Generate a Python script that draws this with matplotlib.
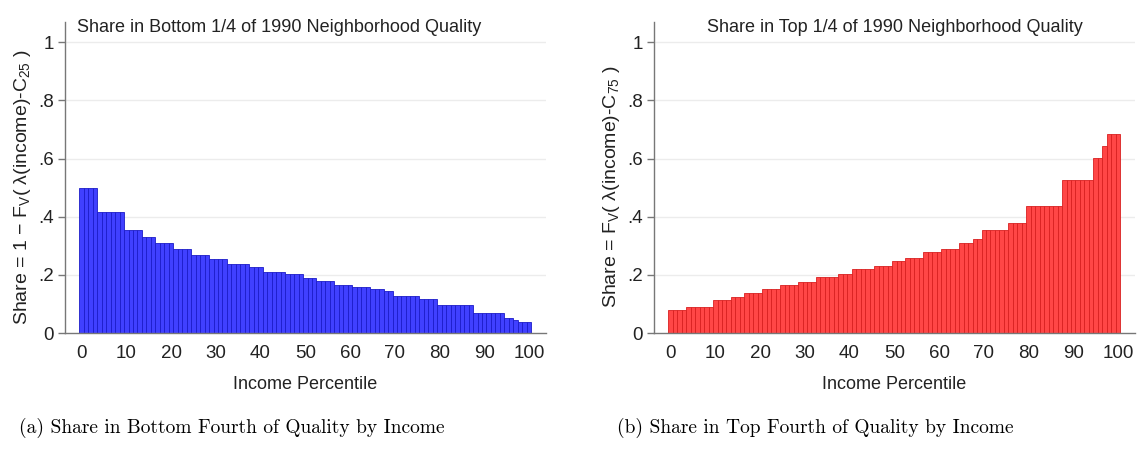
import matplotlib
matplotlib.use("Agg")
import matplotlib.pyplot as plt

plt.rcParams['font.family'] = ['Liberation Sans', 'DejaVu Sans']
plt.rcParams['mathtext.fontset'] = 'custom'
plt.rcParams['mathtext.rm'] = 'Liberation Sans'
plt.rcParams['mathtext.it'] = 'Liberation Sans:italic'

# income percentiles 0..100
percentiles = list(range(0, 101))

# Share in bottom 1/4 of neighborhood quality
bottom_share = [
    0.500, 0.500, 0.500, 0.500, 0.417, 0.417, 0.417, 0.417, 0.417, 0.417,
    0.354, 0.354, 0.354, 0.354, 0.331, 0.331, 0.331, 0.308, 0.308, 0.308,
    0.308, 0.290, 0.290, 0.290, 0.290, 0.267, 0.267, 0.267, 0.267, 0.254,
    0.254, 0.254, 0.254, 0.237, 0.237, 0.237, 0.237, 0.237, 0.226, 0.226,
    0.226, 0.210, 0.210, 0.210, 0.210, 0.210, 0.203, 0.203, 0.203, 0.203,
    0.188, 0.188, 0.188, 0.180, 0.180, 0.180, 0.180, 0.165, 0.165, 0.165,
    0.165, 0.158, 0.158, 0.158, 0.158, 0.151, 0.151, 0.151, 0.143, 0.143,
    0.128, 0.128, 0.128, 0.128, 0.128, 0.128, 0.118, 0.118, 0.118, 0.118,
    0.096, 0.096, 0.096, 0.096, 0.096, 0.096, 0.096, 0.096, 0.070, 0.070,
    0.070, 0.070, 0.070, 0.070, 0.070, 0.052, 0.052, 0.045, 0.039, 0.039,
    0.039,
]

# Share in top 1/4 of neighborhood quality
top_share = [
    0.079, 0.079, 0.079, 0.079, 0.089, 0.089, 0.089, 0.089, 0.089, 0.089,
    0.114, 0.114, 0.114, 0.114, 0.123, 0.123, 0.123, 0.137, 0.137, 0.137,
    0.137, 0.151, 0.151, 0.151, 0.151, 0.166, 0.166, 0.166, 0.166, 0.177,
    0.177, 0.177, 0.177, 0.192, 0.192, 0.192, 0.192, 0.192, 0.203, 0.203,
    0.203, 0.221, 0.221, 0.221, 0.221, 0.221, 0.229, 0.229, 0.229, 0.229,
    0.248, 0.248, 0.248, 0.259, 0.259, 0.259, 0.259, 0.279, 0.279, 0.279,
    0.279, 0.290, 0.290, 0.290, 0.290, 0.309, 0.309, 0.309, 0.324, 0.324,
    0.353, 0.353, 0.353, 0.353, 0.353, 0.353, 0.378, 0.378, 0.378, 0.378,
    0.438, 0.438, 0.438, 0.438, 0.438, 0.438, 0.438, 0.438, 0.528, 0.528,
    0.528, 0.528, 0.528, 0.528, 0.528, 0.602, 0.602, 0.645, 0.686, 0.686,
    0.686,
]

xticks = [0, 10, 20, 30, 40, 50, 60, 70, 80, 90, 100]
yticks = [0, 0.2, 0.4, 0.6, 0.8, 1]
ytick_labels = ["0", ".2", ".4", ".6", ".8", "1"]

titles = ["Share in Bottom 1/4 of 1990 Neighborhood Quality",
          "Share in Top 1/4 of 1990 Neighborhood Quality"]
ylabels = [r"Share = 1 − F$_\mathrm{V}$( λ(income)-C$_\mathrm{25}$ )",
           r"Share = F$_\mathrm{V}$( λ(income)-C$_\mathrm{75}$ )"]
captions = ["(a) Share in Bottom Fourth of Quality by Income",
            "(b) Share in Top Fourth of Quality by Income"]

W, H = 1140, 451
fig = plt.figure(figsize=(W / 100, H / 100), dpi=100)

panels = [
    (65, bottom_share, "#4040ff", "#1c1cc8", 279, 232),
    (654, top_share, "#ff4646", "#d82020", 895, 815),
]

for i, (left_px, vals, fill, edge, title_x, cap_x) in enumerate(panels):
    ax = fig.add_axes([left_px / W, (H - 333) / H, 481 / W, 311 / H])
    for y in yticks[1:]:
        ax.axhline(y, color="#ececec", lw=1.0, zorder=0)
    ax.bar(percentiles, vals, width=1.0, color=fill, edgecolor=edge,
           linewidth=0.6, zorder=2)
    ax.set_xlim(-3.7, 103.8)
    ax.set_ylim(0, 1.07)
    ax.set_xticks(xticks)
    ax.set_yticks(yticks)
    ax.set_yticklabels(ytick_labels)
    ax.tick_params(axis="x", length=0, labelsize=13.5, pad=9, colors="#222222")
    ax.tick_params(axis="y", length=5, width=1, color="#777777",
                   labelsize=13.5, pad=3, labelcolor="#222222")
    for s in ["top", "right"]:
        ax.spines[s].set_visible(False)
    for s in ["left", "bottom"]:
        ax.spines[s].set_color("#777777")
        ax.spines[s].set_linewidth(1.0)
    ax.set_xlabel("Income Percentile", fontsize=13, labelpad=10, color="#222222")
    ax.set_ylabel(ylabels[i], fontsize=14, color="#222222")
    ax.yaxis.set_label_coords(-0.067, 0.47)
    fig.text(title_x / W, 1 - 28 / H, titles[i], fontsize=13,
             ha="center", va="center", color="#222222")
    fig.text(cap_x / W, 1 - 428 / H, captions[i], fontsize=14,
             family="cmr10", ha="center", va="center")

fig.savefig("out.png", dpi=100)
